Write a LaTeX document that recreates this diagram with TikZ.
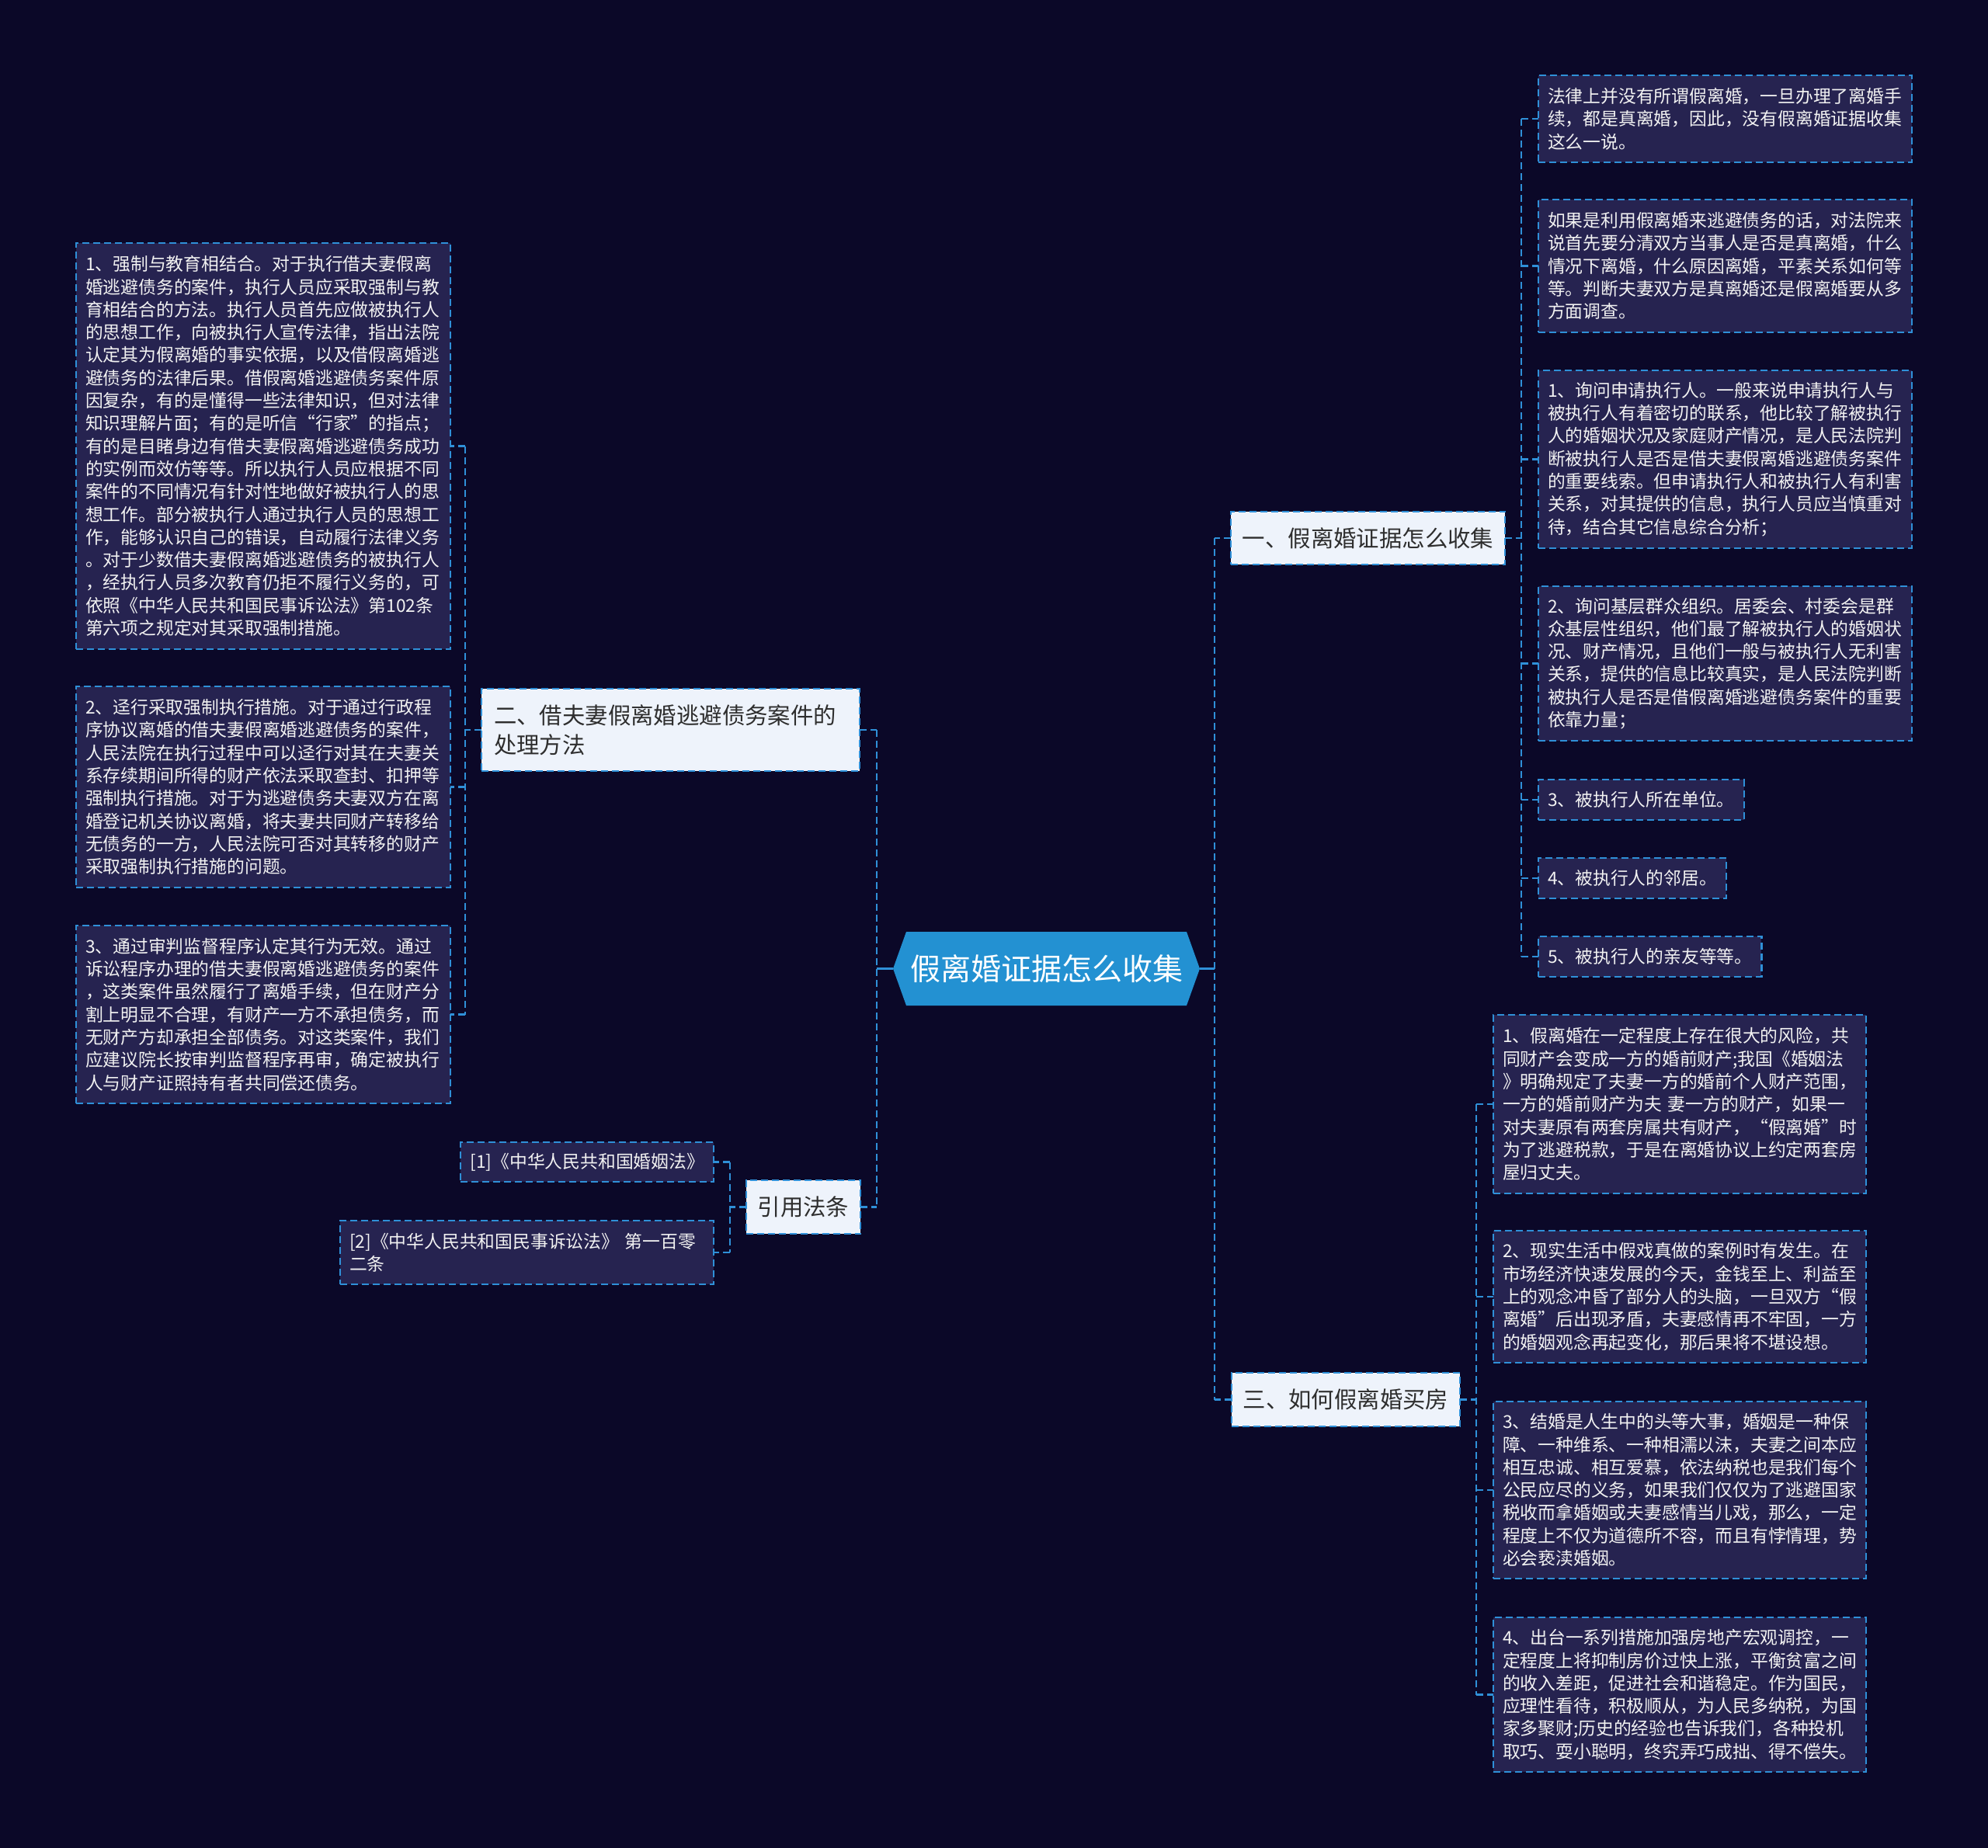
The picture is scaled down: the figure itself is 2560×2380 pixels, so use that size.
\documentclass[tikz,border=0pt]{standalone}
\usepackage{fontspec}
\newfontfamily\cjk{Noto Sans CJK SC}
\usetikzlibrary{calc}
\definecolor{bgc}{HTML}{0B0828}
\definecolor{leaffill}{HTML}{262350}
\definecolor{lineblue}{HTML}{2F90D8}
\definecolor{topfill}{HTML}{EEF3FB}
\definecolor{topfg}{HTML}{2E2E2E}
\definecolor{cfill}{HTML}{2391D2}
\definecolor{leaffg}{HTML}{F2F2F2}
\pgfdeclarelayer{back}
\pgfsetlayers{back,main}
\tikzset{
  conn/.style={draw=lineblue, line width=2.2pt, dash pattern=on 9pt off 5pt},
  solidconn/.style={draw=lineblue, line width=2.2pt},
  leaf/.style={draw=lineblue, fill=leaffill, line width=2.2pt, dash pattern=on 9pt off 5pt,
    text=leaffg, font=\cjk\fontsize{22.8}{29.3}\selectfont, align=left,
    inner xsep=12pt, inner ysep=6pt, outer sep=0pt, anchor=center},
  topic/.style={draw=lineblue, fill=topfill, line width=2.2pt, dash pattern=on 9pt off 5pt,
    text=topfg, font=\cjk\fontsize{29.4}{38}\selectfont, align=left,
    inner xsep=15pt, inner ysep=6pt, outer sep=0pt, anchor=center},
  central/.style={text=white, font=\cjk\fontsize{39}{46}\selectfont,
    minimum width=395pt, minimum height=95pt, inner sep=0pt, outer sep=0pt}
}
\begin{document}
\begin{tikzpicture}[x=1pt, y=-1pt]
\useasboundingbox (0,0) rectangle (2560,2380);
\begin{pgfonlayer}{back}
\fill[bgc] (0,0) rectangle (2560,2380);
\end{pgfonlayer}

% central node
\node[central] (c) at (1347.5,1247.5) {假离婚证据怎么收集};
\begin{pgfonlayer}{back}
\fill[cfill] (c.west) -- ([xshift=17pt]c.north west) -- ([xshift=-17pt]c.north east)
  -- (c.east) -- ([xshift=-17pt]c.south east) -- ([xshift=17pt]c.south west) -- cycle;
\end{pgfonlayer}

% topics
\node[topic, minimum height=68pt] (n1) at (1761.5,693) {一、假离婚证据怎么收集};
\node[topic, text width=455pt, minimum height=106pt, inner xsep=16pt] (n2) at (863.5,940)
  {二、借夫妻假离婚逃避债务案件的\\处理方法};
\node[topic, minimum height=69pt] (n3) at (1733,1802.5) {三、如何假离婚买房};
\node[topic, minimum height=69pt] (n4) at (1034.5,1554.5) {引用法条};

% group one leaves
\node[leaf, text width=457pt, minimum height=112pt] (r1) at (2221.5,153)
 {法律上并没有所谓假离婚，一旦办理了离婚手\\续，都是真离婚，因此，没有假离婚证据收集\\这么一说。};
\node[leaf, text width=457pt, minimum height=171pt] (r2) at (2221.5,342.5)
 {如果是利用假离婚来逃避债务的话，对法院来\\说首先要分清双方当事人是否是真离婚，什么\\情况下离婚，什么原因离婚，平素关系如何等\\等。判断夫妻双方是真离婚还是假离婚要从多\\方面调查。};
\node[leaf, text width=457pt, minimum height=229pt] (r3) at (2221.5,591.5)
 {1、询问申请执行人。一般来说申请执行人与\\被执行人有着密切的联系，他比较了解被执行\\人的婚姻状况及家庭财产情况，是人民法院判\\断被执行人是否是借夫妻假离婚逃避债务案件\\的重要线索。但申请执行人和被执行人有利害\\关系，对其提供的信息，执行人员应当慎重对\\待，结合其它信息综合分析；};
\node[leaf, text width=457pt, minimum height=199pt] (r4) at (2221.5,854.5)
 {2、询问基层群众组织。居委会、村委会是群\\众基层性组织，他们最了解被执行人的婚姻状\\况、财产情况，且他们一般与被执行人无利害\\关系，提供的信息比较真实，是人民法院判断\\被执行人是否是借假离婚逃避债务案件的重要\\依靠力量；};
\node[leaf, minimum height=52pt, anchor=west] (r5) at (1981,1030) {3、被执行人所在单位。};
\node[leaf, minimum height=52pt, anchor=west] (r6) at (1981,1131) {4、被执行人的邻居。};
\node[leaf, minimum height=52pt, anchor=west] (r7) at (1981,1232) {5、被执行人的亲友等等。};

% group two leaves
\node[leaf, text width=458pt, minimum height=523pt] (l1) at (339,574.5)
 {1、强制与教育相结合。对于执行借夫妻假离\\婚逃避债务的案件，执行人员应采取强制与教\\育相结合的方法。执行人员首先应做被执行人\\的思想工作，向被执行人宣传法律，指出法院\\认定其为假离婚的事实依据，以及借假离婚逃\\避债务的法律后果。借假离婚逃避债务案件原\\因复杂，有的是懂得一些法律知识，但对法律\\知识理解片面；有的是听信“行家”的指点；\\有的是目睹身边有借夫妻假离婚逃避债务成功\\的实例而效仿等等。所以执行人员应根据不同\\案件的不同情况有针对性地做好被执行人的思\\想工作。部分被执行人通过执行人员的思想工\\作，能够认识自己的错误，自动履行法律义务\\。对于少数借夫妻假离婚逃避债务的被执行人\\，经执行人员多次教育仍拒不履行义务的，可\\依照《中华人民共和国民事诉讼法》第102条\\第六项之规定对其采取强制措施。};
\node[leaf, text width=458pt, minimum height=259pt] (l2) at (339,1013.5)
 {2、迳行采取强制执行措施。对于通过行政程\\序协议离婚的借夫妻假离婚逃避债务的案件，\\人民法院在执行过程中可以迳行对其在夫妻关\\系存续期间所得的财产依法采取查封、扣押等\\强制执行措施。对于为逃避债务夫妻双方在离\\婚登记机关协议离婚，将夫妻共同财产转移给\\无债务的一方，人民法院可否对其转移的财产\\采取强制执行措施的问题。};
\node[leaf, text width=458pt, minimum height=229pt] (l3) at (339,1306.5)
 {3、通过审判监督程序认定其行为无效。通过\\诉讼程序办理的借夫妻假离婚逃避债务的案件\\，这类案件虽然履行了离婚手续，但在财产分\\割上明显不合理，有财产一方不承担债务，而\\无财产方却承担全部债务。对这类案件，我们\\应建议院长按审判监督程序再审，确定被执行\\人与财产证照持有者共同偿还债务。};

% group three leaves
\node[leaf, text width=456pt, minimum height=230pt] (t1) at (2163,1422)
 {1、假离婚在一定程度上存在很大的风险，共\\同财产会变成一方的婚前财产;我国《婚姻法\\》明确规定了夫妻一方的婚前个人财产范围，\\一方的婚前财产为夫 妻一方的财产，如果一\\对夫妻原有两套房属共有财产，“假离婚”时\\为了逃避税款，于是在离婚协议上约定两套房\\屋归丈夫。};
\node[leaf, text width=456pt, minimum height=170pt] (t2) at (2163,1670)
 {2、现实生活中假戏真做的案例时有发生。在\\市场经济快速发展的今天，金钱至上、利益至\\上的观念冲昏了部分人的头脑，一旦双方“假\\离婚”后出现矛盾，夫妻感情再不牢固，一方\\的婚姻观念再起变化，那后果将不堪设想。};
\node[leaf, text width=456pt, minimum height=228pt] (t3) at (2163,1919)
 {3、结婚是人生中的头等大事，婚姻是一种保\\障、一种维系、一种相濡以沫，夫妻之间本应\\相互忠诚、相互爱慕，依法纳税也是我们每个\\公民应尽的义务，如果我们仅仅为了逃避国家\\税收而拿婚姻或夫妻感情当儿戏，那么，一定\\程度上不仅为道德所不容，而且有悖情理，势\\必会亵渎婚姻。};
\node[leaf, text width=456pt, minimum height=199pt] (t4) at (2163,2182.5)
 {4、出台一系列措施加强房地产宏观调控，一\\定程度上将抑制房价过快上涨，平衡贫富之间\\的收入差距，促进社会和谐稳定。作为国民，\\应理性看待，积极顺从，为人民多纳税，为国\\家多聚财;历史的经验也告诉我们，各种投机\\取巧、耍小聪明，终究弄巧成拙、得不偿失。};

% citations
\node[leaf, minimum height=51pt, anchor=east] (k1) at (919,1496.5) {[1]《中华人民共和国婚姻法》};
\node[leaf, text width=457pt, minimum height=82pt] (k2) at (678.5,1613)
 {[2]《中华人民共和国民事诉讼法》 第一百零\\二条};

% spine coordinates
\coordinate (cl) at (1129,1247.5);
\coordinate (cr) at (1564,1247.5);
\coordinate (g1) at (1959,693);
\coordinate (g2) at (599,940);
\coordinate (g3) at (1901,1802.5);
\coordinate (g4) at (940,1554.5);

% central connectors
\draw[solidconn] (c.west) -- (cl);
\draw[solidconn] (c.east) -- (cr);
\draw[conn] (cl |- n2.east) -- (cl |- n4.east);
\draw[conn] (n2.east) -- (cl |- n2.east);
\draw[conn] (n4.east) -- (cl |- n4.east);
\draw[conn] (cr |- n1.west) -- (cr |- n3.west);
\draw[conn] (n1.west) -- (cr |- n1.west);
\draw[conn] (n3.west) -- (cr |- n3.west);

% group one
\draw[conn] (n1.east) -- (g1);
\draw[conn] (g1 |- r1.west) -- (g1 |- r7.west);
\foreach \n in {r1,r2,r3,r4,r5,r6,r7} \draw[conn] (g1 |- \n.west) -- (\n.west);

% group two
\draw[conn] (n2.west) -- (g2);
\draw[conn] (g2 |- l1.east) -- (g2 |- l3.east);
\foreach \n in {l1,l2,l3} \draw[conn] (g2 |- \n.east) -- (\n.east);

% group three
\draw[conn] (n3.east) -- (g3);
\draw[conn] (g3 |- t1.west) -- (g3 |- t4.west);
\foreach \n in {t1,t2,t3,t4} \draw[conn] (g3 |- \n.west) -- (\n.west);

% citations
\draw[conn] (n4.west) -- (g4);
\draw[conn] (g4 |- k1.east) -- (g4 |- k2.east);
\foreach \n in {k1,k2} \draw[conn] (g4 |- \n.east) -- (\n.east);
\end{tikzpicture}
\end{document}
